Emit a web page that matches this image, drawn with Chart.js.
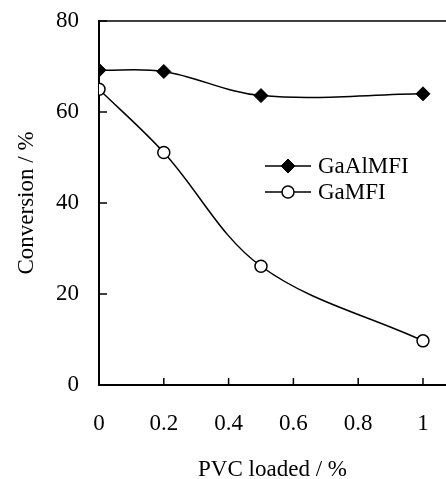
<!DOCTYPE html>
<html>
<head>
<meta charset="utf-8">
<script src="https://cdn.jsdelivr.net/npm/chart.js@4/dist/chart.umd.min.js"></script>
<style>
html,body{margin:0;padding:0;background:#fff;}
#wrap{width:446px;height:479px;}
</style>
</head>
<body>
<div id="wrap"><canvas id="c" width="446" height="479"></canvas></div>
<script>
const pvcLoaded = [0, 0.2, 0.5, 1];
const gaAlMFI = [69.2, 68.9, 63.6, 64.0];
const gaMFI = [65.0, 51.1, 26.1, 9.7];
const seriesNames = ['GaAlMFI', 'GaMFI'];
const xTicks = [0, 0.2, 0.4, 0.6, 0.8, 1];
const yTicks = [0, 20, 40, 60, 80];

const FONT = 'Liberation Serif, Times New Roman, serif';
const FS = 23;

const toPts = (xs, ys) => xs.map((x, i) => ({x: x, y: ys[i]}));

const frameAndTicks = {
  id: 'frameAndTicks',
  afterDatasetsDraw(chart) {
    const {ctx, chartArea: a, scales} = chart;
    ctx.save();
    ctx.strokeStyle = '#000';
    ctx.lineWidth = 1.5;
    ctx.beginPath();
    ctx.moveTo(a.left, a.top);
    ctx.lineTo(a.right, a.top);
    ctx.stroke();
    ctx.beginPath();
    yTicks.forEach(v => {
      if (v === 0) return;
      const y = scales.y.getPixelForValue(v);
      ctx.moveTo(a.left, y);
      ctx.lineTo(a.left + 8, y);
    });
    xTicks.forEach(v => {
      if (v === 0) return;
      const x = scales.x.getPixelForValue(v);
      ctx.moveTo(x, a.bottom);
      ctx.lineTo(x, a.bottom - 7);
    });
    ctx.stroke();
    ctx.restore();
  }
};

const customLegend = {
  id: 'customLegend',
  afterDraw(chart, args, opts) {
    const {ctx} = chart;
    ctx.save();
    chart.data.datasets.forEach((ds, i) => {
      const y = opts.y + i * opts.rowH;
      ctx.strokeStyle = '#000';
      ctx.lineWidth = 1.5;
      ctx.beginPath();
      ctx.moveTo(opts.x, y);
      ctx.lineTo(opts.x + opts.lineW, y);
      ctx.stroke();
      ctx.fillStyle = ds.pointBackgroundColor;
      ctx.strokeStyle = ds.pointBorderColor;
      ctx.lineWidth = ds.pointBorderWidth;
      Chart.helpers.drawPoint(ctx, {pointStyle: ds.pointStyle, radius: ds.pointRadius, borderWidth: ds.pointBorderWidth, rotation: 0}, opts.x + opts.lineW / 2, y);
      ctx.fillStyle = '#000';
      ctx.font = FS + 'px ' + FONT;
      ctx.textBaseline = 'middle';
      ctx.textAlign = 'left';
      ctx.fillText(ds.label, opts.x + opts.lineW + 7, y + 1);
    });
    ctx.restore();
  }
};

new Chart(document.getElementById('c'), {
  type: 'line',
  data: {
    datasets: [
      {
        label: seriesNames[0],
        data: toPts(pvcLoaded, gaAlMFI),
        borderColor: '#000',
        borderWidth: 1.5,
        pointStyle: 'rectRot',
        pointRadius: 7,
        pointBackgroundColor: '#000',
        pointBorderColor: '#000',
        pointBorderWidth: 1,
        tension: 0.35,
        fill: false
      },
      {
        label: seriesNames[1],
        data: toPts(pvcLoaded, gaMFI),
        borderColor: '#000',
        borderWidth: 1.5,
        pointStyle: 'circle',
        pointRadius: 6,
        pointBackgroundColor: '#fff',
        pointBorderColor: '#000',
        pointBorderWidth: 1.5,
        tension: 0.35,
        fill: false
      }
    ]
  },
  options: {
    responsive: false,
    animation: false,
    events: [],
    layout: {autoPadding: false, padding: {left: 0, right: 0, top: 21, bottom: 0}},
    plugins: {
      legend: {display: false},
      tooltip: {enabled: false},
      customLegend: {x: 265, y: 166, rowH: 26, lineW: 46}
    },
    scales: {
      x: {
        type: 'linear',
        min: 0,
        max: 1.071,
        afterBuildTicks: s => { s.ticks = xTicks.map(v => ({value: v})); },
        afterFit: s => { s.height = 94; s.paddingLeft = 0; s.paddingRight = 0; s.paddingTop = 0; s.paddingBottom = 0; },
        grid: {display: false, drawTicks: false},
        border: {display: true, color: '#000', width: 2},
        ticks: {
          padding: 25,
          color: '#000',
          font: {family: FONT, size: FS},
          maxRotation: 0,
          callback: v => String(v)
        },
        title: {
          display: true,
          text: 'PVC loaded / %',
          color: '#000',
          font: {family: FONT, size: FS},
          padding: {top: 0, bottom: -5}
        }
      },
      y: {
        min: 0,
        max: 80,
        afterBuildTicks: s => { s.ticks = yTicks.map(v => ({value: v})); },
        afterFit: s => { s.width = 99; s.paddingLeft = 0; s.paddingRight = 0; s.paddingTop = 0; s.paddingBottom = 0; },
        grid: {display: false, drawTicks: false},
        border: {display: true, color: '#000', width: 2},
        ticks: {
          padding: 20,
          color: '#000',
          font: {family: FONT, size: FS}
        },
        title: {
          display: true,
          text: 'Conversion / %',
          color: '#000',
          font: {family: FONT, size: FS},
          padding: {top: 13, bottom: 0}
        }
      }
    }
  },
  plugins: [frameAndTicks, customLegend]
});
</script>
</body>
</html>
